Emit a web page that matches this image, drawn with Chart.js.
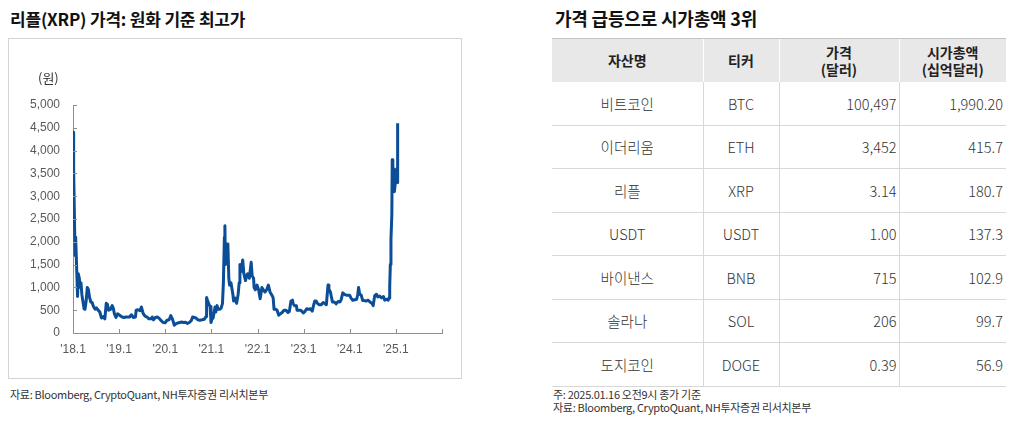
<!DOCTYPE html>
<html><head><meta charset="utf-8">
<script src="https://cdn.jsdelivr.net/npm/chart.js@4.4.1/dist/chart.umd.min.js"></script>
<style>
body{margin:0;width:1014px;height:425px;background:#fff;position:relative;overflow:hidden;font-family:"Noto Sans CJK KR","Noto Sans",sans-serif;color:#222}
.title{position:absolute;top:6px;font-size:17px;font-weight:bold;letter-spacing:-0.2px;white-space:nowrap;color:#111}
.box{position:absolute;left:8px;top:38px;width:452px;height:339px;border:1px solid #d4d4d4}
.box canvas{position:absolute;left:0;top:0}
.unit{position:absolute;left:29px;top:29px;font-size:13px;color:#333}
.note{position:absolute;font-size:11px;color:#333;white-space:nowrap;letter-spacing:-0.3px;line-height:13px}
table{position:absolute;left:552px;top:38px;border-collapse:collapse;table-layout:fixed;width:454px}
th{background:#e8e8e8;font-weight:bold;font-size:14px;line-height:17px;height:43px;padding:0;color:#222;border-top:1px solid #c4c4c4;border-left:1px solid #fff}
th:first-child{border-left:none}
td{font-size:14.5px;font-weight:300;color:#333;height:42.5px;padding:0;border-bottom:1px solid #d8d8d8;border-left:1px solid #d8d8d8;text-align:center}
td:first-child{border-left:none}
td.num{text-align:right;padding-right:2px}
td.num2{text-align:right;padding-right:3px}
</style></head>
<body>
<div class="title" style="left:10px">리플(XRP) 가격: 원화 기준 최고가</div>
<div class="box"><canvas id="c" width="452" height="339"></canvas><div class="unit">(원)</div></div>
<div class="note" style="left:10px;top:388px">자료: Bloomberg, CryptoQuant, NH투자증권 리서치본부</div>

<div class="title" style="left:555px;font-size:18px;top:5px">가격 급등으로 시가총액 3위</div>
<table id="tbl"></table>
<div class="note" style="left:553px;top:388px">주: 2025.01.16 오전9시 종가 기준</div>
<div class="note" style="left:553px;top:401px">자료: Bloomberg, CryptoQuant, NH투자증권 리서치본부</div>

<script>
// ---- chart data (XRP price in KRW) ----
const dates = [
"2018-01-01","2018-01-04","2018-01-08","2018-01-12","2018-01-17","2018-01-22","2018-01-29","2018-02-06","2018-02-12","2018-02-20","2018-02-27",
"2018-03-05","2018-03-12","2018-03-20","2018-03-30","2018-04-06","2018-04-15","2018-04-24","2018-05-03","2018-05-12","2018-05-22","2018-06-01",
"2018-06-12","2018-06-25","2018-07-05","2018-07-20","2018-08-01","2018-08-14","2018-08-28","2018-09-10","2018-09-21","2018-09-30","2018-10-10",
"2018-10-25","2018-11-07","2018-11-15","2018-11-25","2018-12-07","2018-12-20","2018-12-31",
"2019-01-10","2019-01-25","2019-02-10","2019-02-25","2019-03-10","2019-03-25","2019-04-08","2019-04-25","2019-05-10","2019-05-16","2019-05-30",
"2019-06-15","2019-06-26","2019-07-10","2019-07-25","2019-08-10","2019-08-25","2019-09-10","2019-09-20","2019-09-30","2019-10-15","2019-10-30",
"2019-11-15","2019-11-30","2019-12-15","2019-12-31",
"2020-01-15","2020-02-01","2020-02-14","2020-02-28","2020-03-13","2020-03-25","2020-04-10","2020-04-25","2020-05-10","2020-05-25","2020-06-10",
"2020-06-25","2020-07-10","2020-07-25","2020-08-05","2020-08-18","2020-09-01","2020-09-15","2020-10-01","2020-10-20","2020-11-05","2020-11-20",
"2020-11-24","2020-12-01","2020-12-10","2020-12-22","2020-12-29",
"2021-01-05","2021-01-15","2021-01-30","2021-02-05","2021-02-15","2021-02-25","2021-03-10","2021-03-20","2021-03-30","2021-04-06","2021-04-14",
"2021-04-18","2021-04-22","2021-04-28","2021-05-06","2021-05-12","2021-05-19","2021-05-25","2021-06-05","2021-06-20","2021-06-26","2021-07-05",
"2021-07-20","2021-08-01","2021-08-09","2021-08-15","2021-08-25","2021-09-06","2021-09-15","2021-09-28","2021-10-06","2021-10-15","2021-10-28",
"2021-11-08","2021-11-12","2021-11-20","2021-12-01","2021-12-05","2021-12-15","2021-12-28",
"2022-01-10","2022-01-22","2022-02-05","2022-02-15","2022-03-01","2022-03-15","2022-03-28","2022-04-10","2022-04-25","2022-05-05","2022-05-12",
"2022-05-25","2022-06-05","2022-06-18","2022-07-01","2022-07-15","2022-07-30","2022-08-15","2022-08-30","2022-09-10","2022-09-23","2022-10-05",
"2022-10-10","2022-10-20","2022-11-05","2022-11-10","2022-11-25","2022-12-10","2022-12-30",
"2023-01-10","2023-01-25","2023-02-10","2023-02-25","2023-03-10","2023-03-22","2023-03-30","2023-04-10","2023-04-20","2023-05-05","2023-05-20",
"2023-06-05","2023-06-15","2023-06-30","2023-07-13","2023-07-20","2023-08-01","2023-08-17","2023-09-01","2023-09-15","2023-10-01","2023-10-15",
"2023-10-25","2023-11-07","2023-11-15","2023-11-25","2023-12-05","2023-12-20","2023-12-31",
"2024-01-10","2024-01-25","2024-02-10","2024-02-25","2024-03-05","2024-03-11","2024-03-20","2024-04-01","2024-04-13","2024-04-25","2024-05-10",
"2024-05-25","2024-06-10","2024-06-25","2024-07-05","2024-07-17","2024-07-31","2024-08-10","2024-08-25","2024-09-10","2024-09-25","2024-10-05",
"2024-10-20","2024-11-01","2024-11-08","2024-11-13","2024-11-18","2024-11-23","2024-11-30","2024-12-03","2024-12-08","2024-12-14","2024-12-20",
"2024-12-28","2025-01-04","2025-01-07","2025-01-10","2025-01-14","2025-01-16"
];
const prices = [
2900,4400,3600,2600,1700,2100,1500,800,1300,1200,1000,
1100,850,700,530,520,700,1000,950,780,680,670,
580,520,550,500,460,330,360,310,650,630,500,
520,600,550,420,340,420,400,
380,350,340,350,350,350,400,340,350,500,510,
490,570,430,370,350,310,310,350,290,340,350,
320,270,230,225,
280,290,380,300,170,200,220,230,240,230,235,
210,230,270,350,340,330,290,280,290,300,360,
780,720,650,580,230,
300,330,570,460,600,520,520,550,650,1100,2100,
2350,1500,1700,1950,1900,1200,1050,1100,850,700,770,
650,850,1100,1500,1350,1600,1300,1150,1250,1300,1200,
1450,1550,1250,1200,1000,950,1050,
950,750,1000,950,900,950,1050,900,830,770,520,
520,500,390,420,450,500,500,450,470,700,720,
650,600,600,500,500,500,440,
470,530,520,530,480,620,700,700,650,620,620,
670,650,620,1050,960,900,680,680,640,690,680,
730,880,860,840,830,830,830,
770,720,730,740,850,1000,850,830,710,710,700,
720,680,650,600,820,850,790,810,770,800,720,
740,720,770,1000,1500,2050,2600,3800,3400,3600,3100,
3300,3400,3600,3300,4000,4600
];
const yearTicks = [2018,2019,2020,2021,2022,2023,2024,2025,2026];
const yearLabels = ["'18.1","'19.1","'20.1","'21.1","'22.1","'23.1","'24.1","'25.1",""];
const yTicks = [0,500,1000,1500,2000,2500,3000,3500,4000,4500,5000];

// ---- table data ----
const assetNames = ["비트코인","이더리움","리플","USDT","바이낸스","솔라나","도지코인"];
const tickers = ["BTC","ETH","XRP","USDT","BNB","SOL","DOGE"];
const priceUsd = ["100,497","3,452","3.14","1.00","715","206","0.39"];
const marketCap = ["1,990.20","415.7","180.7","137.3","102.9","99.7","56.9"];
const headers = ["자산명","티커","가격<br>(달러)","시가총액<br>(십억달러)"];
const colWidths = [151,76,120,107];

function toYear(s){
  const [y,m,d] = s.split('-').map(Number);
  const start = Date.UTC(y,0,1), end = Date.UTC(y+1,0,1);
  return y + (Date.UTC(y,m-1,d)-start)/(end-start);
}
const points = dates.map((d,i)=>({x:toYear(d), y:prices[i]}));

const axisColor = '#8f8f8f';
const innerTicks = {
  id:'innerTicks',
  afterDraw(chart){
    const ctx = chart.ctx, xs = chart.scales.x, ys = chart.scales.y, a = chart.chartArea;
    ctx.save();
    ctx.strokeStyle = axisColor; ctx.lineWidth = 1;
    ctx.beginPath();
    yearTicks.forEach(v=>{ const px = Math.round(xs.getPixelForValue(v))+0.5; ctx.moveTo(px,a.bottom); ctx.lineTo(px,a.bottom-4); });
    yTicks.forEach(v=>{ const py = Math.round(ys.getPixelForValue(v))+0.5; ctx.moveTo(a.left,py); ctx.lineTo(a.left+4,py); });
    ctx.stroke();
    ctx.restore();
  }
};

new Chart(document.getElementById('c'), {
  type:'line',
  data:{datasets:[{data:points, borderColor:'#0b4d96', borderWidth:3, pointRadius:0, tension:0, fill:false, borderJoinStyle:'round'}]},
  options:{
    responsive:false, animation:false, parsing:true,
    layout:{padding:{top:66,right:19,left:0,bottom:15}},
    plugins:{legend:{display:false}, tooltip:{enabled:false}},
    scales:{
      x:{type:'linear', min:2018, max:2026,
        afterBuildTicks:s=>{ s.ticks = yearTicks.map(v=>({value:v})); },
        ticks:{callback:(v)=>yearLabels[yearTicks.indexOf(v)] ?? '', color:'#595959', font:{family:'Liberation Sans, Arial', size:12}, maxRotation:0, autoSkip:false, padding:9},
        grid:{display:false, drawTicks:false},
        border:{display:true, color:axisColor, width:1},
        afterFit:s=>{ s.height = 30; }
      },
      y:{min:0, max:5000,
        afterBuildTicks:s=>{ s.ticks = yTicks.map(v=>({value:v})); },
        ticks:{callback:(v)=>v.toLocaleString('en-US'), color:'#595959', font:{family:'Liberation Sans, Arial', size:12}, padding:13},
        grid:{display:false, drawTicks:false},
        border:{display:true, color:axisColor, width:1},
        afterFit:s=>{ s.width = 64; }
      }
    }
  },
  plugins:[innerTicks]
});

// ---- build table ----
const tbl = document.getElementById('tbl');
let html = '<colgroup>' + colWidths.map(w=>`<col style="width:${w}px">`).join('') + '</colgroup>';
html += '<tr>' + headers.map(h=>`<th>${h}</th>`).join('') + '</tr>';
assetNames.forEach((n,i)=>{
  html += `<tr><td>${n}</td><td>${tickers[i]}</td><td class="num">${priceUsd[i]}</td><td class="num2">${marketCap[i]}</td></tr>`;
});
tbl.innerHTML = html;
</script>
</body></html>
